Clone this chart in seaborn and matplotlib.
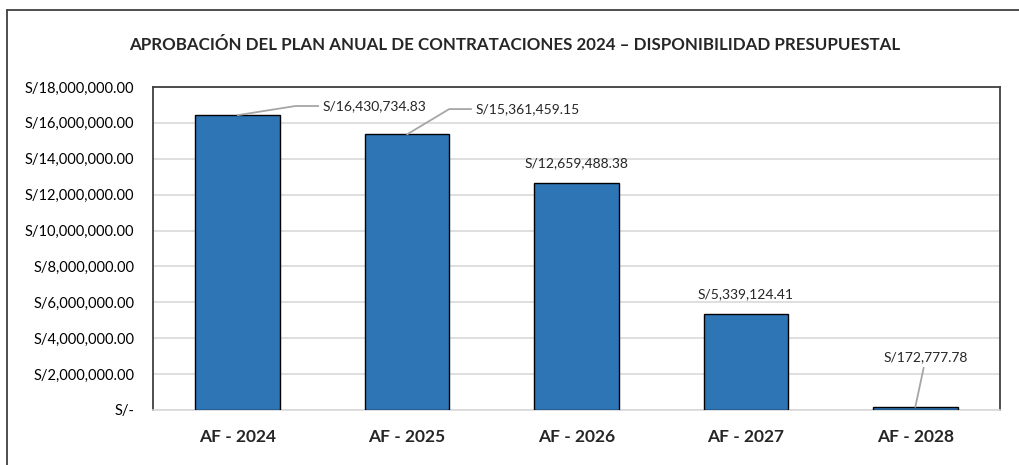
import numpy as np
import seaborn as sns
import matplotlib.pyplot as plt
from matplotlib.lines import Line2D
from matplotlib.ticker import FuncFormatter, MultipleLocator

categories = ["AF - 2024", "AF - 2025", "AF - 2026", "AF - 2027", "AF - 2028"]
values = [16430734.83, 15361459.15, 12659488.38, 5339124.41, 172777.78]
title = "APROBACIÓN DEL PLAN ANUAL DE CONTRATACIONES 2024 – DISPONIBILIDAD PRESUPUESTAL"

sns.set_style("white")
plt.rcParams["font.family"] = ["Lato", "DejaVu Sans"]

fig = plt.figure(figsize=(10.2, 4.65), dpi=100)
ax = fig.add_axes([0.15, 0.1183, 0.8304, 0.6946])

sns.barplot(x=categories, y=values, color="#2E75B6", saturation=1,
            edgecolor="black", linewidth=1.0, width=0.5, ax=ax, zorder=3)

ax.set_ylim(0, 18000000)
ax.set_xlim(-0.5, 4.5)
ax.yaxis.set_major_locator(MultipleLocator(2000000))
ax.yaxis.set_major_formatter(FuncFormatter(
    lambda v, p: "S/-" if v == 0 else "S/{:,.2f}".format(v)))
ax.grid(axis="y", color="#d9d9d9", linewidth=1.2, zorder=0)
ax.set_axisbelow(True)
ax.tick_params(axis="y", length=0, pad=13.5, labelsize=10.5, labelcolor="black")
ax.tick_params(axis="x", length=0, pad=14, labelsize=12.5)
for lab in ax.get_xticklabels():
    lab.set_fontweight("bold")
ax.set_xlabel("")
ax.set_ylabel("")

for side in ["left", "top", "right"]:
    ax.spines[side].set_color("#404040")
    ax.spines[side].set_linewidth(1.3)
ax.spines["bottom"].set_color("#d9d9d9")
ax.spines["bottom"].set_linewidth(1.2)

# data labels with leader lines
lbl = ["S/{:,.2f}".format(v) for v in values]
line_kw = dict(arrowstyle="-", color="#a6a6a6", lw=1.3, shrinkA=1, shrinkB=0)
ax.annotate(lbl[0], xy=(0, values[0]), xytext=(0.81, 16940000),
            ha="center", va="center", fontsize=10,
            arrowprops=dict(connectionstyle="angle,angleA=0,angleB=9,rad=0", **line_kw))
ax.annotate(lbl[1], xy=(1, values[1]), xytext=(1.714, 16770000),
            ha="center", va="center", fontsize=10,
            arrowprops=dict(connectionstyle="angle,angleA=0,angleB=31,rad=0", **line_kw))
ax.annotate(lbl[2], xy=(2, values[2]), xytext=(2.0, 13760000),
            ha="center", va="center", fontsize=10)
ax.annotate(lbl[3], xy=(3, values[3]), xytext=(3.0, 6460000),
            ha="center", va="center", fontsize=10)
ax.annotate(lbl[4], xy=(4, values[4]), xytext=(4.063, 2950000),
            ha="center", va="center", fontsize=10,
            arrowprops=dict(**line_kw))

fig.text(0.505, 0.903, title, ha="center", va="center",
         fontsize=12.2, fontweight="bold")

# outer chart frame (top and left edges)
fig.add_artist(Line2D([7 / 1020, 1], [1 - 10 / 465] * 2, color="#404040", lw=1.3))
fig.add_artist(Line2D([7 / 1020] * 2, [0, 1 - 10 / 465], color="#404040", lw=1.3))

fig.savefig("out.png", dpi=100)
